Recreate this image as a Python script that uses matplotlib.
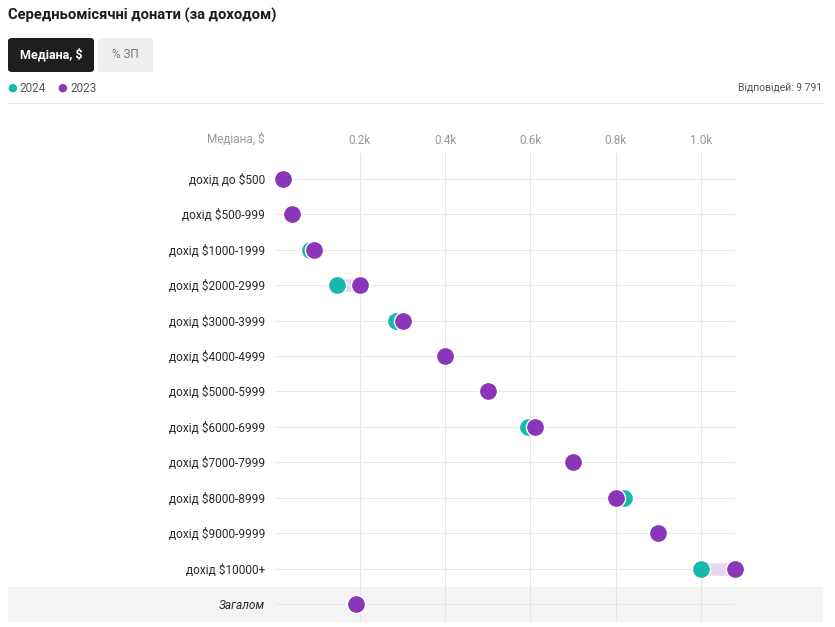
import matplotlib
matplotlib.use("Agg")
import matplotlib.pyplot as plt
from matplotlib.patches import Rectangle, FancyBboxPatch

plt.rcParams['font.family'] = ['Roboto', 'DejaVu Sans']

categories = ["дохід до $500", "дохід $500-999", "дохід $1000-1999", "дохід $2000-2999",
              "дохід $3000-3999", "дохід $4000-4999", "дохід $5000-5999", "дохід $6000-6999",
              "дохід $7000-7999", "дохід $8000-8999", "дохід $9000-9999", "дохід $10000+",
              "Загалом"]
values_2024 = [0.02, 0.04, 0.083, 0.145, 0.285, 0.40, 0.50, 0.595, 0.70, 0.82, 0.90, 1.00, 0.19]
values_2023 = [0.02, 0.04, 0.093, 0.20, 0.30, 0.40, 0.50, 0.61, 0.70, 0.80, 0.90, 1.08, 0.19]
tick_values = [0.2, 0.4, 0.6, 0.8, 1.0]
tick_labels = ["0.2k", "0.4k", "0.6k", "0.8k", "1.0k"]

W, H = 835, 627
fig = plt.figure(figsize=(W / 100, H / 100), dpi=100)

def fx(px):
    return px / W

def fy(py):
    return 1 - py / H

TEAL = "#17b8ad"
PURPLE = "#8b35b9"
BAND = "#e7d8ef"

# Gray band for total row
fig.patches.append(Rectangle((fx(8), fy(622)), fx(815), 35 / H, transform=fig.transFigure,
                             facecolor="#f4f4f4", edgecolor="none", zorder=-5))

# Axes
ax_left, ax_right, ax_top, ax_bottom = 274.75, 735, 153, 622
ax = fig.add_axes([fx(ax_left), fy(ax_bottom), fx(ax_right - ax_left), (ax_bottom - ax_top) / H])
ax.set_zorder(2)
ax.patch.set_alpha(0)
n = len(categories)
ax.set_xlim(0, 1.08)
ax.set_ylim(n - 1 + 0.51, -0.735)

for v in tick_values:
    ax.axvline(v, color="#e4e4e4", lw=0.8, zorder=1)
for i in range(n):
    ax.axhline(i, color="#e8e8e8", lw=0.8, zorder=1)

for i in range(n):
    a, b = values_2024[i], values_2023[i]
    if abs(a - b) > 1e-9:
        ax.plot([a, b], [i, i], color=BAND, lw=9, solid_capstyle="butt", zorder=2, clip_on=False)

ys = list(range(n))
ax.scatter(values_2024, ys, s=170, color=TEAL, edgecolors="white", linewidths=1.0, zorder=3, clip_on=False)
ax.scatter(values_2023, ys, s=170, color=PURPLE, edgecolors="white", linewidths=1.0, zorder=4, clip_on=False)

ax.set_xticks(tick_values)
ax.set_xticklabels(tick_labels)
ax.xaxis.tick_top()
ax.tick_params(axis="x", length=0, pad=4.4, labelsize=8.5, labelcolor="#999999")
ax.set_yticks(ys)
ax.set_yticklabels(categories)
ax.tick_params(axis="y", length=0, pad=7, labelsize=8.6, labelcolor="#2a2a2a")
ax.get_yticklabels()[-1].set_fontstyle("italic")
for s in ax.spines.values():
    s.set_visible(False)

fig.text(fx(265), fy(139), "Медіана, $", ha="right", va="center", fontsize=8.5, color="#999999")

# Title
fig.text(fx(8), fy(15), "Середньомісячні донати (за доходом)", ha="left", va="center",
         fontsize=10.6, fontweight="bold", color="#1a1a1a")

# Buttons
fig.patches.append(FancyBboxPatch((fx(8), fy(72)), fx(86), 34 / H, transform=fig.transFigure,
                                  boxstyle="round,pad=0,rounding_size=0.005",
                                  facecolor="#1e1e1e", edgecolor="none"))
fig.text(fx(51), fy(55), "Медіана, $", ha="center", va="center", fontsize=9,
         fontweight="bold", color="white")
fig.patches.append(FancyBboxPatch((fx(98), fy(72)), fx(55), 34 / H, transform=fig.transFigure,
                                  boxstyle="round,pad=0,rounding_size=0.005",
                                  facecolor="#efefef", edgecolor="none"))
fig.text(fx(125.5), fy(55), "% ЗП", ha="center", va="center", fontsize=8.5, color="#777777")

# Legend
fig.text(fx(12), fy(88), "●", ha="center", va="center", fontsize=8, color=TEAL)
fig.text(fx(19), fy(88), "2024", ha="left", va="center", fontsize=8.5, color="#555555")
fig.text(fx(62), fy(88), "●", ha="center", va="center", fontsize=8, color=PURPLE)
fig.text(fx(70), fy(88), "2023", ha="left", va="center", fontsize=8.5, color="#555555")
fig.text(fx(822), fy(88), "Відповідей: 9 791", ha="right", va="center", fontsize=7.5, color="#555555")

fig.add_artist(plt.Line2D([fx(8), fx(823)], [fy(103), fy(103)], color="#ebebeb", lw=0.8))

fig.savefig("out.png", dpi=100)
